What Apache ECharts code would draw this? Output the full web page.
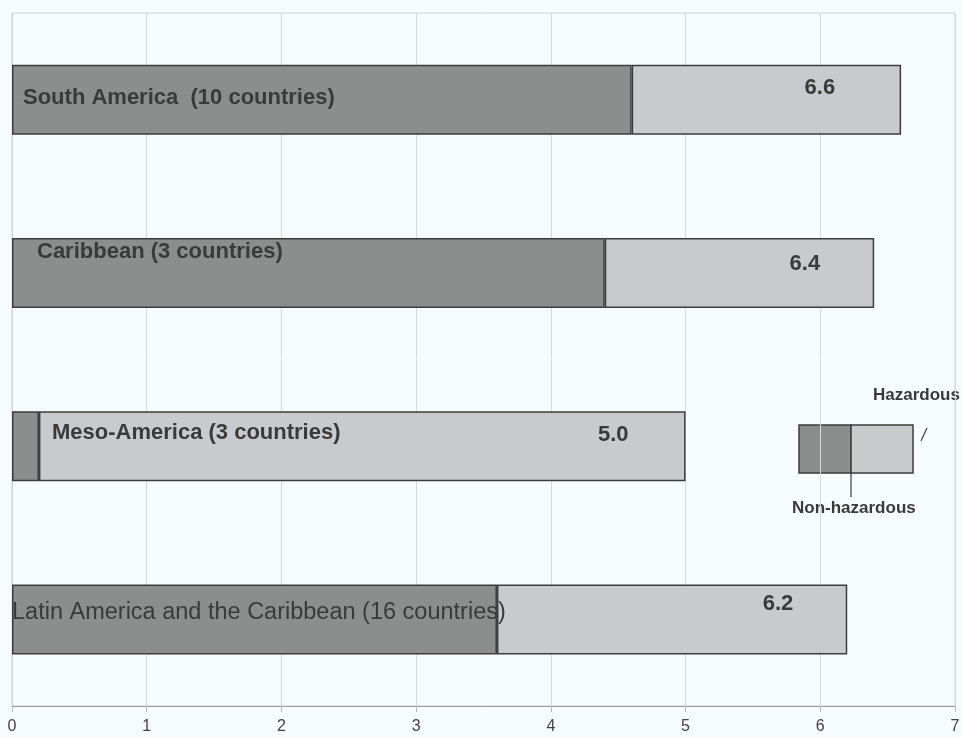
<!DOCTYPE html>
<html>
<head>
<meta charset="utf-8">
<script src="https://cdn.jsdelivr.net/npm/echarts@6/dist/echarts.min.js"></script>
<style>
  html, body { margin: 0; padding: 0; background: #f6fcfc; }
  #chart { width: 963px; height: 737px; }
</style>
</head>
<body>
<div id="chart"></div>
<script>
// Regions, top to bottom
const regions = [
  'South America  (10 countries)',
  'Caribbean (3 countries)',
  'Meso-America (3 countries)',
  'Latin America and the Caribbean (16 countries)'
];
// Non-hazardous share and total per region
const nonHazardous = [4.6, 4.4, 0.2, 3.6];
const totals = [6.6, 6.4, 5.0, 6.2];
// Hazardous part is what remains of the total
const hazardous = totals.map((t, i) => +(t - nonHazardous[i]).toFixed(2));
const xTicks = [0, 1, 2, 3, 4, 5, 6, 7];

const DARK = '#8b8e8d';
const LIGHT = '#c8cbcd';
const EDGE = '#3c3c3c';
const TEXT = '#3a3a3a';

// Label placement inside each bar (layout only)
const nameOffsets = [[11, -2], [25, -21], [40, -13], [0, -7]];
const nameFonts = [
  { fontWeight: 'bold', fontSize: 22 },
  { fontWeight: 'bold', fontSize: 22 },
  { fontWeight: 'bold', fontSize: 22 },
  { fontWeight: 'normal', fontSize: 23.5 }
];
const valueOffsets = [[-66, -12], [-54, -9], [-57, -11], [-54, -15]];

const chart = echarts.init(document.getElementById('chart'));

const option = {
  backgroundColor: '#f6fcfc',
  animation: false,
  grid: {
    left: 12, right: 8, top: 13, bottom: 31,
    show: true, borderColor: '#cfd3d3', borderWidth: 1
  },
  xAxis: {
    type: 'value', min: 0, max: 7, interval: 1,
    axisLine: { show: true, lineStyle: { color: '#9a9c9c', width: 1 } },
    axisTick: { show: true, length: 6, lineStyle: { color: '#b8bcbc' } },
    splitLine: { show: true, lineStyle: { color: '#d6dada', width: 1 } },
    axisLabel: {
      color: '#444', fontSize: 16, margin: 13,
      fontFamily: 'Liberation Sans Narrow, Liberation Sans, Arial',
      formatter: v => String(xTicks[v] ?? v)
    }
  },
  yAxis: {
    type: 'category', inverse: true, data: regions,
    axisLine: { show: true, lineStyle: { color: '#cfd3d3' } },
    axisTick: { show: false },
    axisLabel: { show: false },
    splitLine: { show: false }
  },
  series: [
    {
      name: 'Non-hazardous', type: 'bar', stack: 'total', barWidth: 70, z: 3,
      itemStyle: { color: DARK, borderColor: EDGE, borderWidth: 1.5 },
      data: nonHazardous.map((v, i) => ({
        value: v,
        label: {
          show: true, position: 'insideLeft', distance: 0,
          offset: nameOffsets[i],
          formatter: regions[i],
          color: TEXT, fontFamily: 'Liberation Sans, Arial',
          fontWeight: nameFonts[i].fontWeight, fontSize: nameFonts[i].fontSize
        }
      }))
    },
    {
      name: 'Hazardous', type: 'bar', stack: 'total', barWidth: 70, z: 2,
      itemStyle: { color: LIGHT, borderColor: EDGE, borderWidth: 1.5 },
      data: hazardous.map((v, i) => ({
        value: v,
        label: {
          show: true, position: 'insideRight', distance: 0,
          offset: valueOffsets[i],
          formatter: totals[i].toFixed(1),
          color: TEXT, fontFamily: 'Liberation Sans, Arial',
          fontWeight: 'bold', fontSize: 22
        }
      }))
    }
  ],
  graphic: [
    // Legend swatch
    { type: 'rect', shape: { x: 799, y: 425, width: 52, height: 48 },
      style: { fill: DARK, stroke: EDGE, lineWidth: 1.5 } },
    { type: 'rect', shape: { x: 851, y: 425, width: 62, height: 48 },
      style: { fill: LIGHT, stroke: EDGE, lineWidth: 1.5 } },
    { type: 'line', shape: { x1: 851, y1: 473, x2: 851, y2: 497 },
      style: { stroke: EDGE, lineWidth: 1.2 } },
    { type: 'line', shape: { x1: 927, y1: 428, x2: 921, y2: 441 },
      style: { stroke: EDGE, lineWidth: 1.2 } },
    { type: 'text', x: 873, y: 395,
      style: { text: 'Hazardous', fill: TEXT, font: 'bold 17px "Liberation Sans", Arial',
               verticalAlign: 'middle' } },
    { type: 'text', x: 792, y: 508,
      style: { text: 'Non-hazardous', fill: TEXT, font: 'bold 17px "Liberation Sans", Arial',
               verticalAlign: 'middle' } }
  ]
};

chart.setOption(option);
</script>
</body>
</html>
